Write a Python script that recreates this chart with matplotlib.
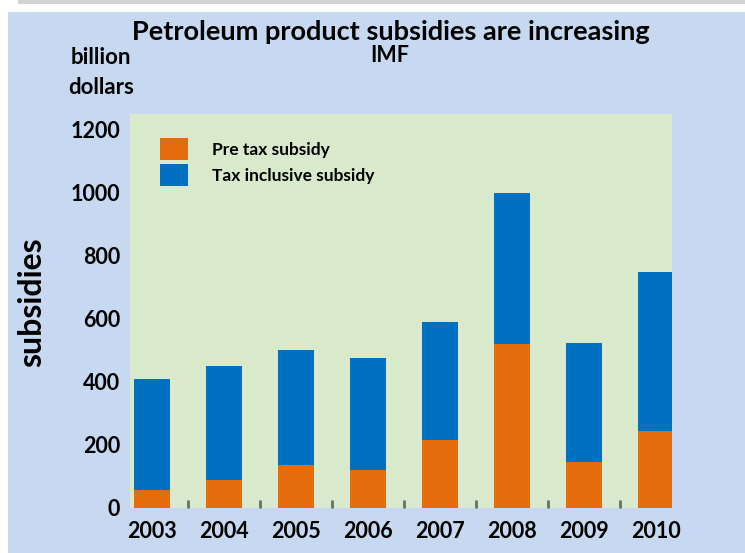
import matplotlib
matplotlib.use("Agg")
import matplotlib.pyplot as plt
import numpy as np
from matplotlib.patches import Rectangle, Patch

years = ["2003", "2004", "2005", "2006", "2007", "2008", "2009", "2010"]
pre_tax = [57, 88, 135, 122, 215, 520, 145, 245]
tax_inclusive = [408, 449, 500, 477, 590, 1000, 525, 750]
y_ticks = [0, 200, 400, 600, 800, 1000, 1200]

ORANGE = "#e46c0a"
BLUE = "#0070c0"
PANEL = "#c6d9f0"
GREEN = "#d8eacb"

plt.rcParams["font.family"] = ["Lato", "DejaVu Sans"]
plt.rcParams["font.weight"] = "bold"

fig = plt.figure(figsize=(7.45, 5.53), dpi=100)
fig.patch.set_facecolor("white")

# outer slide-like panel and the grey strip above it
fig.add_artist(Rectangle((8 / 745, 0), 1, (553 - 12) / 553, transform=fig.transFigure,
                         facecolor=PANEL, edgecolor="none", zorder=0))
fig.add_artist(Rectangle((18 / 745, (553 - 4) / 553), 1, 4 / 553, transform=fig.transFigure,
                         facecolor="#d4d4d4", edgecolor="none", zorder=0))

ax = fig.add_axes([130 / 745, 45 / 553, 542 / 745, 394 / 553])
ax.set_facecolor(GREEN)
x = np.arange(len(years))

ax.bar(x, tax_inclusive, width=0.5, color=BLUE, zorder=2)
ax.bar(x, pre_tax, width=0.5, color=ORANGE, zorder=3)

ax.set_xlim(-0.3, 7.22)
ax.set_ylim(0, 1250)
ax.set_xticks(x)
ax.set_xticklabels(years, fontsize=15.5, fontweight="bold")
ax.set_yticks(y_ticks)
ax.set_yticklabels([str(v) for v in y_ticks], fontsize=15.5, fontweight="bold")
ax.set_xticks(x[:-1] + 0.5, minor=True)
ax.tick_params(axis="x", which="major", length=0, pad=9)
ax.tick_params(axis="x", which="minor", direction="in", length=6, width=2, color="#6b6b6b")
ax.tick_params(axis="y", length=0, pad=7)
for s in ax.spines.values():
    s.set_visible(False)

handles = [Patch(facecolor=ORANGE, label="Pre tax subsidy"),
           Patch(facecolor=BLUE, label="Tax inclusive subsidy")]
ax.legend(handles=handles, loc="upper left", bbox_to_anchor=(0.033, 0.97), frameon=False,
          prop={"weight": "bold", "size": 12.5}, handlelength=1.6, handleheight=1.6,
          handletextpad=1.4, labelspacing=0.2, borderpad=0.2)

fig.text(32 / 745, 1 - 302 / 553, "subsidies", rotation=90, ha="center", va="center",
         fontsize=23, fontweight="bold")
fig.text(391 / 745, 1 - 32 / 553, "Petroleum product subsidies are increasing",
         ha="center", va="center", fontsize=19.5, fontweight="bold")
fig.text(390 / 745, 1 - 56 / 553, "IMF", ha="center", va="center", fontsize=15.5, fontweight="bold")
fig.text(101 / 745, 1 - 58 / 553, "billion", ha="center", va="center", fontsize=16, fontweight="bold")
fig.text(101 / 745, 1 - 87 / 553, "dollars", ha="center", va="center", fontsize=16, fontweight="bold")

fig.savefig("out.png", dpi=100)
